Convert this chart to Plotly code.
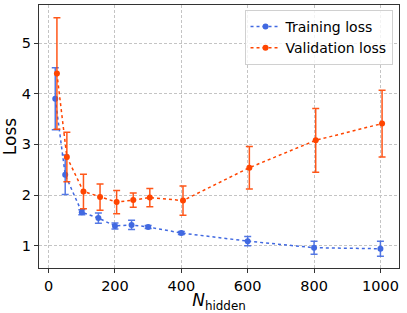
import plotly.graph_objects as go

n_hidden = [20, 50, 100, 150, 200, 250, 300, 400, 600, 800, 1000]
val_offset = 5
train_loss = [3.90, 2.40, 1.66, 1.545, 1.39, 1.41, 1.37, 1.25, 1.09, 0.96, 0.94]
train_err = [0.61, 0.39, 0.05, 0.10, 0.06, 0.09, 0.03, 0.03, 0.09, 0.13, 0.15]
val_loss = [4.40, 2.75, 2.07, 1.96, 1.86, 1.90, 1.95, 1.89, 2.54, 3.08, 3.41]
val_err = [1.10, 0.49, 0.34, 0.26, 0.23, 0.14, 0.18, 0.29, 0.42, 0.63, 0.66]

blue = "#4169E1"
orange = "#FF4500"
font = "DejaVu Sans"

fig = go.Figure()
fig.add_trace(go.Scatter(
    x=n_hidden, y=train_loss, name="Training loss", mode="lines+markers",
    line=dict(color=blue, dash="dot", width=1.5),
    marker=dict(color=blue, size=6),
    error_y=dict(type="data", array=train_err, visible=True, color="rgba(65,105,225,0.9)",
                 thickness=1.5, width=3.5),
))
fig.add_trace(go.Scatter(
    x=[v + val_offset for v in n_hidden], y=val_loss, name="Validation loss", mode="lines+markers",
    line=dict(color=orange, dash="dot", width=1.5),
    marker=dict(color=orange, size=6),
    error_y=dict(type="data", array=val_err, visible=True, color="rgba(255,69,0,0.9)",
                 thickness=1.5, width=3.5),
))

axis_common = dict(
    showline=True, linecolor="#333333", linewidth=1.2, mirror=True,
    showgrid=True, gridcolor="#c4c4c4", griddash="3px,2px", gridwidth=1,
    ticks="outside", ticklen=4, tickcolor="#333333",
    tickfont=dict(family=font, size=14.5, color="black"),
    zeroline=False,
)
fig.update_layout(
    width=407, height=313,
    margin=dict(l=39, r=8, t=5, b=45),
    plot_bgcolor="white", paper_bgcolor="white",
    showlegend=True,
    legend=dict(x=0.982, y=0.981, xanchor="right", yanchor="top",
                bgcolor="rgba(255,255,255,0.8)", bordercolor="#d0d0d0", borderwidth=1,
                font=dict(family=font, size=14, color="black"),
                tracegroupgap=0, itemwidth=30),
    xaxis=dict(range=[-29, 1056], tickvals=[0, 200, 400, 600, 800, 1000],
               title=dict(text="<i>N</i><sub>hidden</sub>", font=dict(family=font, size=17, color="black"),
                          standoff=2),
               **axis_common),
    yaxis=dict(range=[0.56, 5.75], tickvals=[1, 2, 3, 4, 5],
               title=dict(text="Loss", font=dict(family=font, size=17, color="black"), standoff=6),
               **axis_common),
)
fig.write_html("out.html", config={"displayModeBar": False},
               post_script="document.body.style.margin='0';document.body.style.overflow='hidden';")
